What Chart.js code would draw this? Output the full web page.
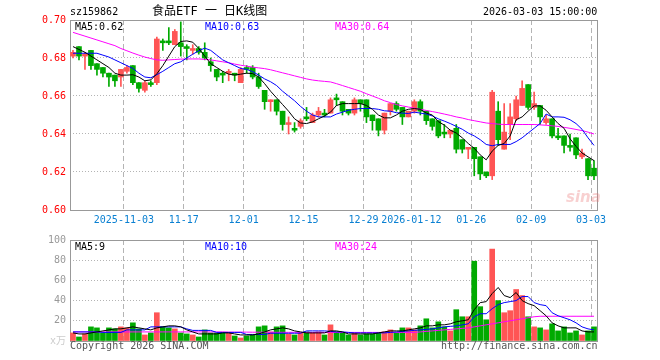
<!DOCTYPE html>
<html>
<head>
<meta charset="utf-8">
<script src="https://cdn.jsdelivr.net/npm/chart.js@4.4.1/dist/chart.umd.min.js"></script>
<style>
  body { margin: 0; background: #fff; }
  #wrap { position: relative; width: 660px; height: 360px; overflow: hidden;
          font: 10px 'DejaVu Sans Mono', 'Noto Sans CJK SC', monospace; }
  canvas { position: absolute; left: 0; }
  .t { position: absolute; white-space: pre; line-height: 12px; }
</style>
</head>
<body>
<div id="wrap">
  <canvas id="kChart" width="660" height="235" style="top:0"></canvas>
  <canvas id="volChart" width="660" height="135" style="top:225px"></canvas>

  <span class="t" style="left:70px;top:6px">sz159862</span>
  <span class="t" style="left:152px;top:4px;font-size:12px;line-height:14px">食品ETF 一 日K线图</span>
  <span class="t" style="left:483px;top:6px">2026-03-03 15:00:00</span>

  <span class="t" style="left:75px;top:21px;color:#000">MA5:0.62</span>
  <span class="t" style="left:205px;top:21px;color:#0000ff">MA10:0.63</span>
  <span class="t" style="left:335px;top:21px;color:#ff00ff">MA30:0.64</span>

  <span class="t" style="left:75px;top:241px;color:#000">MA5:9</span>
  <span class="t" style="left:205px;top:241px;color:#0000ff">MA10:10</span>
  <span class="t" style="left:335px;top:241px;color:#ff00ff">MA30:24</span>

  <span class="t" style="left:566px;top:188px;font:italic bold 15px 'DejaVu Sans';color:rgba(235,120,120,0.35)">sina</span>

  <span class="t" style="left:70px;top:340px;color:#555">Copyright 2026 SINA.COM</span>
  <span class="t" style="left:441px;top:340px;color:#555">http://finance.sina.com.cn</span>
</div>

<script>
// 食品ETF (sz159862) daily K line, 2025-10-21 .. 2026-03-03

const tickIdx = [9, 19, 29, 39, 49, 57, 67, 77, 87];
const tickLabels = ['2025-11-03', '11-17', '12-01', '12-15', '12-29', '2026-01-12', '01-26', '02-09', '03-03'];
const priceTicks = [0.60, 0.62, 0.64, 0.66, 0.68, 0.70];
const volTicks = [0, 20, 40, 60, 80, 100];

const openPrices = [
  0.681, 0.686, 0.681, 0.684, 0.677, 0.675, 0.672, 0.671, 0.670, 0.673,
  0.676, 0.667, 0.663, 0.667, 0.667, 0.689, 0.689, 0.687, 0.688, 0.686,
  0.684, 0.685, 0.683, 0.678, 0.674, 0.672, 0.672, 0.672, 0.667, 0.675,
  0.675, 0.670, 0.663, 0.657, 0.658, 0.652, 0.645, 0.643, 0.644, 0.649,
  0.646, 0.650, 0.651, 0.651, 0.659, 0.657, 0.653, 0.651, 0.658, 0.658,
  0.650, 0.648, 0.642, 0.652, 0.656, 0.654, 0.649, 0.652, 0.657, 0.652,
  0.648, 0.647, 0.641, 0.640, 0.643, 0.637, 0.632, 0.633, 0.628, 0.620,
  0.618, 0.652, 0.632, 0.645, 0.648, 0.655, 0.666, 0.654, 0.655, 0.646,
  0.648, 0.639, 0.639, 0.634, 0.638, 0.628, 0.627, 0.622
];
const highPrices = [
  0.684, 0.686, 0.683, 0.684, 0.677, 0.675, 0.672, 0.671, 0.674, 0.676,
  0.676, 0.667, 0.668, 0.668, 0.691, 0.690, 0.696, 0.695, 0.699, 0.687,
  0.687, 0.686, 0.688, 0.680, 0.674, 0.673, 0.674, 0.672, 0.675, 0.676,
  0.676, 0.672, 0.663, 0.658, 0.658, 0.652, 0.649, 0.646, 0.648, 0.654,
  0.651, 0.654, 0.653, 0.659, 0.661, 0.657, 0.653, 0.659, 0.658, 0.658,
  0.650, 0.648, 0.651, 0.656, 0.657, 0.654, 0.652, 0.658, 0.658, 0.652,
  0.648, 0.647, 0.645, 0.642, 0.645, 0.637, 0.633, 0.633, 0.628, 0.620,
  0.663, 0.657, 0.656, 0.656, 0.660, 0.668, 0.666, 0.662, 0.655, 0.650,
  0.648, 0.643, 0.639, 0.640, 0.638, 0.632, 0.627, 0.626
];
const lowPrices = [
  0.680, 0.679, 0.674, 0.674, 0.671, 0.670, 0.665, 0.665, 0.665, 0.672,
  0.666, 0.662, 0.662, 0.665, 0.666, 0.684, 0.687, 0.687, 0.681, 0.679,
  0.682, 0.682, 0.679, 0.673, 0.668, 0.667, 0.668, 0.668, 0.667, 0.672,
  0.669, 0.664, 0.653, 0.652, 0.650, 0.642, 0.640, 0.641, 0.643, 0.647,
  0.646, 0.649, 0.649, 0.651, 0.655, 0.650, 0.650, 0.650, 0.652, 0.646,
  0.642, 0.639, 0.640, 0.650, 0.652, 0.645, 0.649, 0.651, 0.650, 0.645,
  0.642, 0.638, 0.638, 0.638, 0.630, 0.630, 0.627, 0.618, 0.616, 0.617,
  0.616, 0.634, 0.632, 0.637, 0.647, 0.655, 0.653, 0.653, 0.645, 0.645,
  0.638, 0.637, 0.630, 0.631, 0.627, 0.627, 0.616, 0.616
];
const closePrices = [
  0.683, 0.681, 0.682, 0.676, 0.674, 0.672, 0.670, 0.668, 0.674, 0.675,
  0.667, 0.664, 0.667, 0.666, 0.690, 0.688, 0.688, 0.694, 0.686, 0.685,
  0.685, 0.683, 0.680, 0.676, 0.670, 0.671, 0.673, 0.671, 0.674, 0.674,
  0.670, 0.665, 0.657, 0.658, 0.652, 0.645, 0.646, 0.642, 0.647, 0.648,
  0.650, 0.652, 0.650, 0.658, 0.658, 0.652, 0.651, 0.658, 0.656, 0.649,
  0.647, 0.642, 0.651, 0.656, 0.653, 0.649, 0.652, 0.657, 0.652, 0.647,
  0.644, 0.639, 0.640, 0.642, 0.632, 0.632, 0.633, 0.627, 0.619, 0.618,
  0.662, 0.637, 0.641, 0.649, 0.658, 0.664, 0.654, 0.656, 0.649, 0.648,
  0.639, 0.638, 0.634, 0.633, 0.629, 0.630, 0.618, 0.618
];

const ma5 = [
  0.6860, 0.6845, 0.6830, 0.6810, 0.6790, 0.6770, 0.6750, 0.6720, 0.6710, 0.6710,
  0.6712, 0.6700, 0.6680, 0.6685, 0.6717, 0.6760, 0.6810, 0.6860, 0.6887, 0.6890,
  0.6883, 0.6850, 0.6810, 0.6770, 0.6750, 0.6730, 0.6715, 0.6710, 0.6715, 0.6720,
  0.6718, 0.6700, 0.6665, 0.6625, 0.6590, 0.6555, 0.6520, 0.6480, 0.6458, 0.6455,
  0.6464, 0.6480, 0.6495, 0.6515, 0.6550, 0.6560, 0.6560, 0.6560, 0.6560, 0.6550,
  0.6530, 0.6500, 0.6485, 0.6485, 0.6500, 0.6520, 0.6530, 0.6534, 0.6530, 0.6510,
  0.6500, 0.6465, 0.6447, 0.6420, 0.6405, 0.6380, 0.6350, 0.6325, 0.6290, 0.6264,
  0.6310, 0.6340, 0.6350, 0.6390, 0.6475, 0.6490, 0.6520, 0.6548, 0.6548, 0.6525,
  0.6490, 0.6455, 0.6430, 0.6375, 0.6335, 0.6300, 0.6280, 0.6260
];
const ma10 = [
  0.6825, 0.6825, 0.6825, 0.6825, 0.6825, 0.6815, 0.6805, 0.6790, 0.6775, 0.6760,
  0.6745, 0.6720, 0.6700, 0.6696, 0.6712, 0.6730, 0.6750, 0.6770, 0.6780, 0.6800,
  0.6820, 0.6838, 0.6852, 0.6840, 0.6815, 0.6790, 0.6775, 0.6760, 0.6745, 0.6740,
  0.6728, 0.6710, 0.6690, 0.6675, 0.6655, 0.6625, 0.6600, 0.6575, 0.6545, 0.6520,
  0.6500, 0.6490, 0.6490, 0.6490, 0.6505, 0.6515, 0.6525, 0.6530, 0.6534, 0.6534,
  0.6534, 0.6530, 0.6522, 0.6520, 0.6512, 0.6510, 0.6508, 0.6515, 0.6510, 0.6505,
  0.6495, 0.6480, 0.6468, 0.6455, 0.6440, 0.6425, 0.6405, 0.6390, 0.6370, 0.6345,
  0.6338, 0.6345, 0.6345, 0.6345, 0.6360, 0.6380, 0.6405, 0.6430, 0.6455, 0.6505,
  0.6490, 0.6490, 0.6488, 0.6475, 0.6455, 0.6425, 0.6380, 0.6340
];
const ma30 = [
  0.6935, 0.6925, 0.6915, 0.6905, 0.6895, 0.6885, 0.6875, 0.6865, 0.6850, 0.6838,
  0.6826, 0.6815, 0.6805, 0.6797, 0.6790, 0.6788, 0.6790, 0.6792, 0.6794, 0.6795,
  0.6795, 0.6795, 0.6793, 0.6790, 0.6785, 0.6780, 0.6775, 0.6768, 0.6762, 0.6757,
  0.6752, 0.6748, 0.6744, 0.6738, 0.6730, 0.6722, 0.6714, 0.6706, 0.6698, 0.6690,
  0.6684, 0.6680, 0.6677, 0.6674, 0.6665, 0.6655, 0.6645, 0.6635, 0.6625, 0.6612,
  0.6600, 0.6588, 0.6575, 0.6565, 0.6555, 0.6548, 0.6542, 0.6536, 0.6530, 0.6524,
  0.6518, 0.6512, 0.6505, 0.6498, 0.6490, 0.6484, 0.6476, 0.6470, 0.6464, 0.6458,
  0.6455, 0.6452, 0.6450, 0.6450, 0.6450, 0.6450, 0.6450, 0.6450, 0.6448, 0.6446,
  0.6443, 0.6440, 0.6435, 0.6430, 0.6424, 0.6418, 0.6410, 0.6400
];

// volume, 万手
const volume = [
  8, 4, 7, 14, 13, 8, 13, 12, 14, 13,
  18, 12, 6, 8, 28, 14, 13, 12, 8, 7,
  6, 4, 11, 8, 8, 8, 8, 5, 3, 5,
  6, 14, 15, 9, 14, 15, 7, 6, 8, 9,
  8, 9, 6, 16, 9, 8, 6, 8, 6, 7,
  7, 8, 9, 11, 8, 13, 13, 11, 15, 22,
  13, 19, 14, 10, 31, 24, 24, 79, 34, 21,
  91, 40, 28, 30, 51, 45, 24, 14, 13, 11,
  17, 10, 14, 8, 10, 6, 10, 14
];
const volMa5 = [
  8, 7, 7, 8, 9, 10, 11, 12, 12, 13,
  14, 13, 12, 11, 13, 14, 15, 15, 14, 11,
  9, 7, 7, 7, 7, 8, 8, 7, 6, 6,
  6, 7, 9, 11, 12, 13, 12, 10, 9, 8,
  8, 8, 8, 10, 10, 9, 7, 7, 7, 7,
  7, 8, 9, 10, 10, 10, 11, 12, 13, 15,
  15, 16, 16, 17, 19, 20, 21, 31, 38, 39,
  47, 53, 45, 43, 48, 40, 37, 35, 30, 25,
  18, 15, 13, 13, 13, 10, 9, 9
];
const volMa10 = [
  9, 9, 9, 9, 9, 8.5, 8.5, 8.5, 8.5, 11,
  11, 11, 11, 14, 14, 14, 14, 14, 14, 12,
  10.5, 10.5, 10.5, 10.5, 8.5, 8.5, 8.5, 8.5, 8.5, 6.5,
  6.5, 6.5, 6.5, 7.7, 7.7, 7.7, 7.7, 7.7, 7.7, 10,
  10, 10, 10, 9.5, 9, 9, 8.5, 8, 8, 8,
  8, 8, 8, 8.5, 9, 9.5, 10, 10.5, 11, 11.5,
  12, 13, 14, 14.5, 15, 16, 17, 24, 27, 27,
  32, 36, 38, 39, 40, 44, 44, 38, 36, 35,
  28, 25, 23, 21, 18, 14, 12, 11
];
const volMa30 = [
  9, 9, 9, 9, 9, 9, 9, 9, 9, 9,
  9, 9, 9, 9, 9, 9, 9, 9, 9, 9,
  9, 9, 9, 9, 9, 9, 8.8, 8.8, 8.8, 8.8,
  8.7, 8.7, 8.7, 8.7, 8.6, 8.6, 8.6, 8.6, 8.5, 8.5,
  8.5, 8.5, 8.5, 8.5, 8.5, 8.5, 8.5, 8.5, 8.5, 8.5,
  8.5, 8.5, 8.5, 8.5, 8.5, 8.5, 8.5, 8.5, 9, 9.5,
  10, 10.5, 11, 11.5, 12, 12.5, 13, 14, 15, 16,
  17, 18, 19, 20, 21, 22, 23, 24, 24.5, 24.5,
  24.5, 24.5, 24.5, 24.5, 24.5, 24.5, 24.5, 24.5
];

const MONO = "'DejaVu Sans Mono', 'Noto Sans CJK SC', monospace";
const UP = '#ff5555';
const DOWN = '#00aa00';
const GRID = '#b4b4b4';

const idx = closePrices.map((_, i) => i);
const barColors = idx.map(i => closePrices[i] >= openPrices[i] ? UP : DOWN);

const framePlugin = {
    id: 'frame',
    beforeDatasetsDraw(chart) {
        const { ctx, chartArea: a } = chart;
        ctx.save();
        ctx.strokeStyle = '#999';
        ctx.lineWidth = 1;
        ctx.strokeRect(Math.round(a.left) + 0.5, Math.round(a.top) + 0.5,
            Math.round(a.right - a.left), Math.round(a.bottom - a.top));
        ctx.restore();
    }
};

function xScale(showLabels) {
    return {
        type: 'linear',
        min: -0.5,
        max: 87.5,
        offset: false,
        afterBuildTicks: s => { s.ticks = tickIdx.map(i => ({ value: i - 0.5 })); },
        afterFit: s => { s.height = showLabels ? 25 : 19; },
        grid: { color: GRID, drawTicks: false, offset: false },
        border: { display: false, dash: [5, 3] },
        ticks: {
            display: showLabels, autoSkip: false, maxRotation: 0, padding: 4,
            color: '#0a80d2', font: { family: MONO, size: 10 },
            callback: (v, i) => tickLabels[i]
        }
    };
}

function maLine(values, color) {
    return {
        type: 'line',
        data: idx.map(i => ({ x: i, y: values[i] })),
        borderColor: color,
        borderWidth: 1,
        pointRadius: 0,
        tension: 0
    };
}

const common = {
    responsive: false,
    animation: false,
    events: [],
    plugins: { legend: { display: false }, tooltip: { enabled: false } }
};

// K line chart
new Chart(document.getElementById('kChart'), {
    type: 'bar',
    data: {
        datasets: [
            maLine(ma5, '#000000'),
            maLine(ma10, '#0000ff'),
            maLine(ma30, '#ff00ff'),
            {
                data: idx.map(i => ({ x: i, y: [openPrices[i], closePrices[i]] })),
                backgroundColor: barColors,
                barThickness: 5,
                minBarLength: 1,
                grouped: false
            },
            {
                data: idx.map(i => ({ x: i, y: [lowPrices[i], highPrices[i]] })),
                backgroundColor: barColors,
                barThickness: 1,
                grouped: false
            }
        ]
    },
    options: {
        ...common,
        layout: { padding: { top: 20, right: 63, left: 0, bottom: 0 } },
        scales: {
            x: xScale(true),
            y: {
                min: 0.60,
                max: 0.70,
                afterBuildTicks: s => { s.ticks = priceTicks.map(v => ({ value: v })); },
                afterFit: s => { s.width = 70; },
                grid: { color: GRID, drawTicks: false },
                border: { display: false, dash: [1, 2] },
                ticks: { padding: 4, color: '#ff0000', font: { family: MONO, size: 10 },
                         callback: v => v.toFixed(2) }
            }
        }
    },
    plugins: [framePlugin]
});

// volume chart
new Chart(document.getElementById('volChart'), {
    type: 'bar',
    data: {
        datasets: [
            maLine(volMa5, '#000000'),
            maLine(volMa10, '#0000ff'),
            maLine(volMa30, '#ff00ff'),
            {
                data: idx.map(i => ({ x: i, y: volume[i] })),
                backgroundColor: barColors,
                barThickness: 5,
                grouped: false
            }
        ]
    },
    options: {
        ...common,
        layout: { padding: { top: 15, right: 63, left: 0, bottom: 0 } },
        scales: {
            x: xScale(false),
            y: {
                min: 0,
                max: 100,
                afterBuildTicks: s => { s.ticks = volTicks.map(v => ({ value: v })); },
                afterFit: s => { s.width = 70; },
                grid: { color: GRID, drawTicks: false },
                border: { display: false, dash: [1, 2] },
                ticks: {
                    padding: 4, font: { family: MONO, size: 10 },
                    color: c => c.tick && c.tick.value === 0 ? '#cccccc' : '#999999',
                    callback: v => v === 0 ? 'x万' : String(v)
                }
            }
        }
    },
    plugins: [framePlugin]
});
</script>
</body>
</html>
